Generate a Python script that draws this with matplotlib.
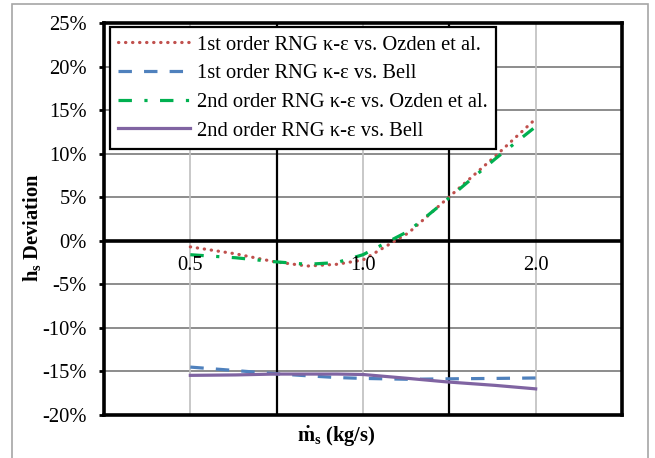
import numpy as np
import matplotlib.pyplot as plt
from matplotlib.patches import Rectangle

plt.rcParams['font.family'] = 'Liberation Serif'
plt.rcParams['mathtext.fontset'] = 'custom'
plt.rcParams['mathtext.rm'] = 'Liberation Serif'
plt.rcParams['mathtext.bf'] = 'Liberation Serif:bold'
plt.rcParams['mathtext.it'] = 'Liberation Serif:italic'

# mass flow rate (kg/s) and deviation of h_s (%)
m_s = [0.5, 0.6, 0.7, 0.8, 0.9, 1.0, 1.2, 1.4, 1.7, 2.0]
first_ozden = [-0.7, -1.5, -2.4, -2.9, -2.7, -2.2, 0.9, 4.8, 9.7, 14.0]
first_bell = [-14.5, -14.9, -15.25, -15.5, -15.7, -15.8, -15.9, -15.85, -15.8, -15.75]
second_ozden = [-1.6, -1.95, -2.4, -2.7, -2.5, -1.6, 1.1, 4.7, 9.4, 13.1]
second_bell = [-15.45, -15.4, -15.3, -15.3, -15.3, -15.35, -15.8, -16.2, -16.6, -17.0]

series_labels = ['1st order RNG κ-ε vs. Ozden et al.',
                 '1st order RNG κ-ε vs. Bell',
                 '2nd order RNG κ-ε vs. Ozden et al.',
                 '2nd order RNG κ-ε vs. Bell']
xtick_vals = [0.5, 1.0, 2.0]
xtick_labels = ['0.5', '1.0', '2.0']
ytick_vals = list(range(-20, 30, 5))
ytick_labels = [f'{v}%' for v in ytick_vals]

fs = 14.8

fig = plt.figure(figsize=(6.55, 4.58), dpi=100)
ax = fig.add_axes([104 / 655, 1 - 415 / 458, 518 / 655, 392 / 458])

# outer chart border
fig.add_artist(Rectangle((12 / 655, -0.05), 636 / 655, 1.05 - 3.5 / 458,
                         transform=fig.transFigure, fill=False,
                         edgecolor='#a6a6a6', linewidth=1.2))

ax.set_xscale('log', base=2)
ax.set_xlim(2 ** -1.5, 2 ** 1.5)
ax.set_ylim(-20, 25)

# grid
for v in ytick_vals:
    if v == 0:
        ax.axhline(v, color='black', linewidth=2.6, zorder=3)
    else:
        ax.axhline(v, color='#8c8c8c', linewidth=1.4, zorder=1)
for v in xtick_vals:
    ax.axvline(v, color='#bfbfbf', linewidth=1.2, zorder=1)
for v in [2 ** -0.5, 2 ** 0.5]:
    ax.axvline(v, color='black', linewidth=1.6, zorder=2)

ax.plot(m_s, first_ozden, color='#c0504d', linewidth=2.3,
        linestyle=(0, (0.1, 2.1)), dash_capstyle='round',
        label=series_labels[0], zorder=4)
ax.plot(m_s, first_bell, color='#4f81bd', linewidth=2.3,
        linestyle=(0, (4.2, 3.8)), label=series_labels[1], zorder=4)
ax.plot(m_s, second_ozden, color='#00b050', linewidth=2.3,
        linestyle=(0, (4.2, 3.9, 1, 3.9)), label=series_labels[2], zorder=4)
ax.plot(m_s, second_bell, color='#8064a2', linewidth=2.3,
        linestyle='-', label=series_labels[3], zorder=4)

# y axis
ax.set_yticks(ytick_vals)
ax.set_yticklabels(ytick_labels, fontsize=fs)
ax.tick_params(axis='y', direction='out', length=3.8, width=2, pad=8.5)
ax.set_xticks([])
ax.minorticks_off()
ax.tick_params(axis='x', which='both', length=0)

# x labels sit under the 0% line
for v, lab in zip(xtick_vals, xtick_labels):
    ax.annotate(lab, (v, 0), xytext=(0, -17.5), textcoords='offset points',
                ha='center', va='center', fontsize=fs, zorder=5)

for s in ax.spines.values():
    s.set_linewidth(2.6)
    s.set_zorder(6)

fig.text(32 / 655, 1 - 228 / 458, r'$\mathbf{h_s}$ Deviation', rotation=90,
         ha='center', va='center', fontsize=fs, fontweight='bold')
fig.text(336 / 655, 1 - 437 / 458, r'$\mathbf{\dot{m}_s}$ (kg/s)',
         ha='center', va='center', fontsize=fs, fontweight='bold')

leg = ax.legend(loc='upper left', bbox_to_anchor=(6 / 518, 1 - 4 / 392),
                borderaxespad=0, fontsize=fs, handlelength=3.5,
                handletextpad=0.35, labelspacing=0.45, borderpad=0.4,
                fancybox=False, framealpha=1, edgecolor='black')
leg.get_frame().set_linewidth(1.6)
leg.set_zorder(7)

plt.savefig('out.png', dpi=100)
